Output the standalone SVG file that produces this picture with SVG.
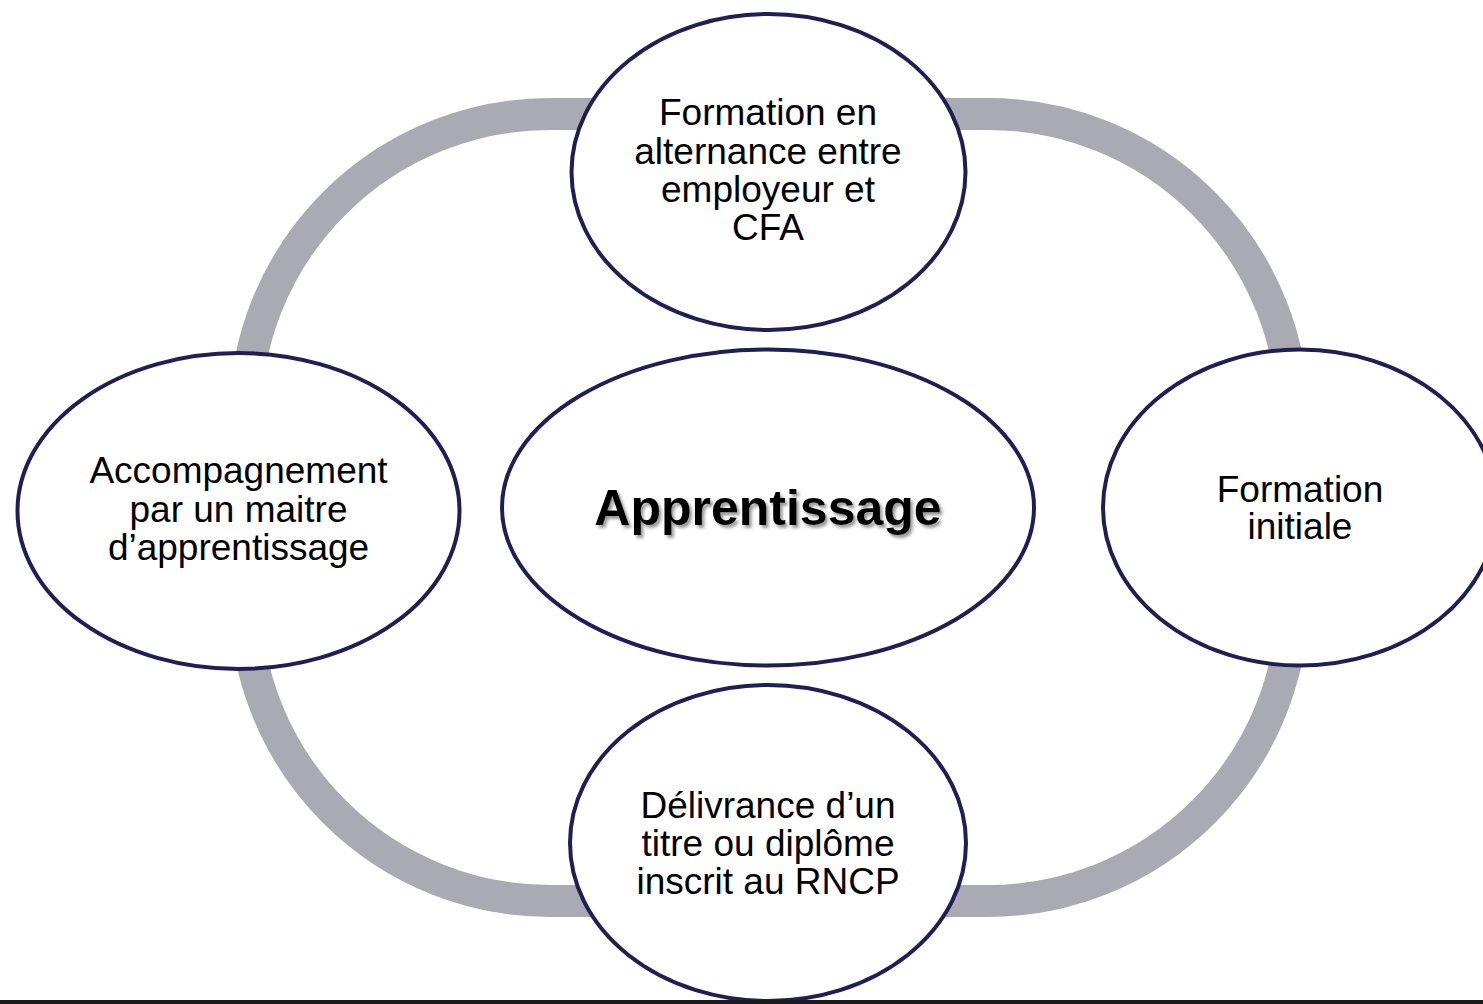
<svg xmlns="http://www.w3.org/2000/svg" width="1483" height="1004" viewBox="0 0 1483 1004">
<style>
.node{fill:#ffffff;stroke:#1f1f55;stroke-width:4}
.lbl{font-family:"Liberation Sans",Arial,sans-serif;font-size:37px;fill:#000;text-anchor:middle}
.title{font-family:"Liberation Sans",Arial,sans-serif;font-size:50px;font-weight:bold;fill:#000;text-anchor:middle}
.ring{fill:none;stroke:#aaaab3;stroke-width:32}
</style>
<defs>
<filter id="shadow" x="-10%" y="-30%" width="120%" height="160%">
<feDropShadow dx="2.5" dy="3" stdDeviation="1.5" flood-color="#555" flood-opacity="0.6"/>
</filter>
</defs>
<rect width="1483" height="1004" fill="#ffffff"/>
<g id="connectors">
<path class="ring" d="M 245 419 A 305 305 0 0 1 550 114 L 988 114 A 305 305 0 0 1 1293 419 L 1293 596 A 305 305 0 0 1 988 901 L 550 901 A 305 305 0 0 1 245 596 Z"/>
</g>
<g id="node-center">
<ellipse class="node" cx="768" cy="507.5" rx="266" ry="158"/>
<text class="title" x="768" y="525" filter="url(#shadow)">Apprentissage</text>
</g>
<g id="node-top">
<ellipse class="node" cx="768.5" cy="172" rx="197" ry="158"/>
<text class="lbl" x="768" y="125">Formation en</text>
<text class="lbl" x="768" y="163.5">alternance entre</text>
<text class="lbl" x="768" y="202">employeur et</text>
<text class="lbl" x="768" y="240">CFA</text>
</g>
<g id="node-left">
<ellipse class="node" cx="238.5" cy="511" rx="221" ry="158"/>
<text class="lbl" x="238.5" y="483">Accompagnement</text>
<text class="lbl" x="238.5" y="522">par un maitre</text>
<text class="lbl" x="238.5" y="560">d’apprentissage</text>
</g>
<g id="node-right">
<ellipse class="node" cx="1300" cy="507.5" rx="197" ry="158"/>
<text class="lbl" x="1300" y="502">Formation</text>
<text class="lbl" x="1300" y="539">initiale</text>
</g>
<g id="node-bottom">
<ellipse class="node" cx="768" cy="843" rx="198" ry="158"/>
<text class="lbl" x="768" y="818">Délivrance d’un</text>
<text class="lbl" x="768" y="856">titre ou diplôme</text>
<text class="lbl" x="768" y="894">inscrit au RNCP</text>
</g>
<rect x="0" y="1000" width="1483" height="4" fill="#1a1a1a"/>
</svg>
